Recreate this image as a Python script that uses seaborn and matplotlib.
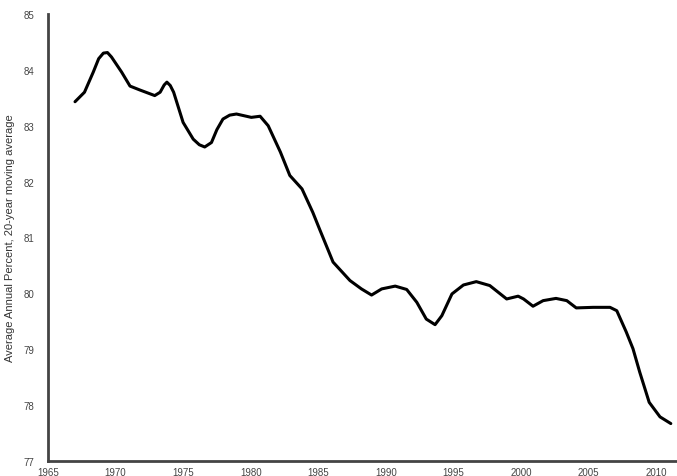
import matplotlib
matplotlib.use("Agg")
import matplotlib.pyplot as plt
import seaborn as sns
import pandas as pd

years = [1967.0, 1967.7, 1968.35, 1968.75, 1969.1, 1969.4, 1969.7, 1970.45, 1971.07, 1971.8,
         1972.9, 1973.3, 1973.6, 1973.8, 1974.05, 1974.3, 1975.0, 1975.75, 1976.2, 1976.6,
         1977.1, 1977.5, 1977.95, 1978.45, 1978.95, 1980.05, 1980.7, 1981.3, 1982.2, 1982.9,
         1983.8, 1984.6, 1985.1, 1986.1, 1987.35, 1988.2, 1988.95, 1989.7, 1990.7, 1991.55,
         1992.3, 1993.0, 1993.65, 1994.15, 1994.9, 1995.75, 1996.7, 1997.7, 1998.95, 1999.8,
         2000.2, 2000.9, 2001.65, 2002.6, 2003.4, 2004.1, 2005.35, 2006.6, 2007.1, 2007.8,
         2008.3, 2008.8, 2009.5, 2010.3, 2011.1]
values = [83.43, 83.60, 83.96, 84.20, 84.30, 84.31, 84.23, 83.96, 83.71, 83.64,
          83.54, 83.60, 83.73, 83.78, 83.72, 83.60, 83.06, 82.76, 82.66, 82.62,
          82.70, 82.93, 83.12, 83.19, 83.21, 83.15, 83.17, 83.00, 82.53, 82.11,
          81.87, 81.45, 81.15, 80.56, 80.23, 80.08, 79.97, 80.08, 80.13, 80.07,
          79.84, 79.54, 79.44, 79.60, 79.99, 80.15, 80.21, 80.14, 79.90, 79.95,
          79.90, 79.77, 79.87, 79.91, 79.87, 79.74, 79.75, 79.75, 79.69, 79.31,
          79.01, 78.59, 78.05, 77.79, 77.67]
x_ticks = [1965, 1970, 1975, 1980, 1985, 1990, 1995, 2000, 2005, 2010]
y_ticks = [77, 78, 79, 80, 81, 82, 83, 84, 85]
y_label = "Average Annual Percent, 20-year moving average"

sns.set_style("white")
plt.rcParams['font.family'] = ['Liberation Sans', 'DejaVu Sans']

df = pd.DataFrame({"year": years, "value": values})

fig = plt.figure(figsize=(6.77, 4.77), dpi=100)
ax = fig.add_axes([48/677, 15/477, (677-48)/677, (462-15)/477])
sns.lineplot(data=df, x="year", y="value", ax=ax, color="black", linewidth=2.2,
             solid_joinstyle="round", solid_capstyle="round")

ax.set_xlim(1965, 1965 + (677-48)/13.51)
ax.set_ylim(77, 85)
ax.set_xticks(x_ticks)
ax.set_yticks(y_ticks)
ax.set_xticklabels([str(t) for t in x_ticks], fontsize=7, color="#444444")
ax.set_yticklabels([str(t) for t in y_ticks], fontsize=7, color="#444444")
ax.set_xlabel("")
ax.set_ylabel(y_label, fontsize=8, color="#333333", labelpad=6)
ax.tick_params(axis="x", direction="in", length=2.5, width=2, color="#222222", pad=4)
ax.tick_params(axis="y", length=0, pad=10)
for s in ["top", "right"]:
    ax.spines[s].set_visible(False)
for s in ["left", "bottom"]:
    ax.spines[s].set_color("#444444")
    ax.spines[s].set_linewidth(2)

fig.savefig("out.png", dpi=100)
